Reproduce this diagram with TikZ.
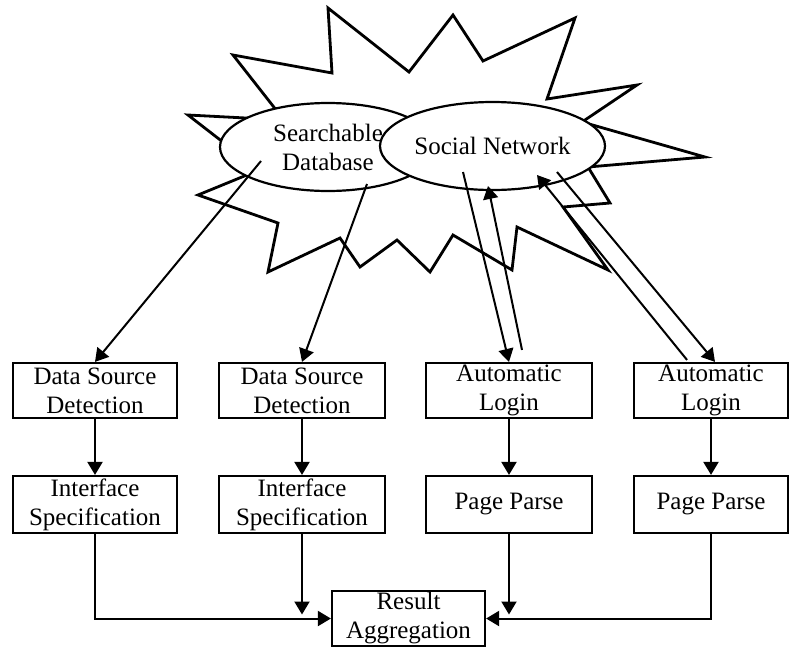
\documentclass[tikz,border=0pt]{standalone}
\usepackage{fontspec}
\setmainfont{Liberation Serif}
\usetikzlibrary{shapes.geometric,arrows.meta}

\begin{document}
\begin{tikzpicture}[x=1pt,y=-1pt,
    box/.style={draw, line width=2.2pt, minimum height=55pt, inner sep=0pt, align=center,
                font=\fontsize{25}{29}\selectfont},
    blob/.style={ellipse, draw, fill=white, line width=2.2pt, inner sep=0pt, align=center,
                 minimum height=88pt, font=\fontsize{25}{29}\selectfont},
    arr/.style={line width=2pt, -{Triangle[length=13pt,width=15pt]}}]
    \useasboundingbox (0,0) rectangle (789,648);

    % Explosion round the two sources
    \draw[line width=2.8pt, fill=white] (233,55) -- (332,73) -- (328,8) -- (409,72) -- (453,15)
        -- (483,61) -- (575,18) -- (547,99) -- (637,85) -- (582,122) -- (705,157) -- (588,167)
        -- (610,203) -- (563,207) -- (608,270) -- (517,227) -- (512,270) -- (453,235)
        -- (430,272) -- (397,240) -- (360,267) -- (340,238) -- (268,272) -- (278,223)
        -- (198,195) -- (259,170) -- (188,115) -- (284,120) -- cycle;

    % Sources
    \node[blob, minimum width=216pt] (sdb) at (328,147) {Searchable\\Database};
    \node[blob, minimum width=225pt] (sn) at (492.5,146) {Social Network};

    % Boxes
    \node[box, minimum width=164pt] (dsd1) at (95,390.5) {Data Source\\Detection};
    \node[box, minimum width=166pt] (dsd2) at (302,390.5) {Data Source\\Detection};
    \node[box, minimum width=166pt] (al1) at (509,390.5) {Automatic\\Login};
    \node[box, minimum width=154pt] (al2) at (711,390.5) {Automatic\\Login};
    \node[box, minimum width=164pt, minimum height=57pt] (is1) at (95,504.5) {Interface\\Specification};
    \node[box, minimum width=166pt, minimum height=57pt] (is2) at (302,504.5) {Interface\\Specification};
    \node[box, minimum width=166pt, minimum height=57pt] (pp1) at (509,504.5) {Page Parse};
    \node[box, minimum width=154pt, minimum height=57pt] (pp2) at (711,504.5) {Page Parse};
    \node[box, minimum width=153pt] (res) at (408.5,618.5) {Result\\Aggregation};

    % Sources to boxes
    \draw[arr] ([shift={(-67,14)}]sdb.center) -- (dsd1.north);
    \draw[arr] ([shift={(39,37)}]sdb.center) -- (dsd2.north);
    \draw[arr] ([shift={(-29.5,26)}]sn.center) -- (al1.north);
    \draw[arr] ([shift={(13,-12)}]al1.north) -- ([shift={(-4.5,40)}]sn.center);
    \draw[arr] ([shift={(64.5,26)}]sn.center) -- ([shift={(4,0)}]al2.north);
    \draw[arr] ([shift={(-24,-2)}]al2.north) -- ([shift={(44.5,29)}]sn.center);

    % Columns
    \draw[arr] (dsd1) -- (is1);
    \draw[arr] (dsd2) -- (is2);
    \draw[arr] (al1) -- (pp1);
    \draw[arr] (al2) -- (pp2);

    % Into the result
    \draw[arr] (is1.south) |- (res.west);
    \draw[arr, shorten >=4pt] (is2.south) -- (is2.south |- res.west);
    \draw[arr, shorten >=4pt] (pp1.south) -- (pp1.south |- res.east);
    \draw[arr] (pp2.south) |- (res.east);
\end{tikzpicture}
\end{document}
